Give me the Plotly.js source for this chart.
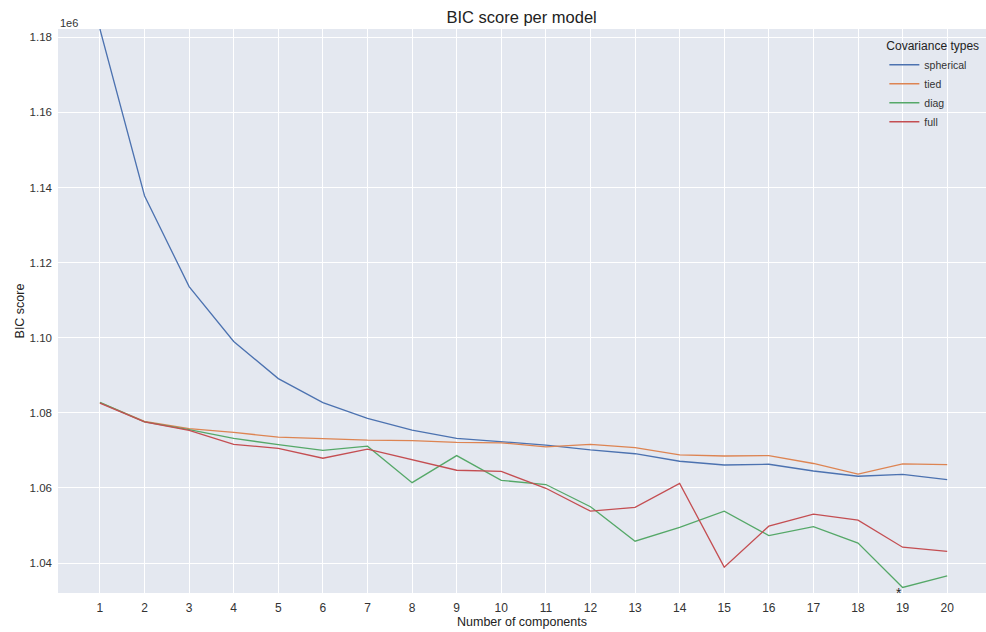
<!DOCTYPE html>
<html>
<head>
<meta charset="utf-8">
<script src="https://cdn.plot.ly/plotly-3.0.1.min.js"></script>
<style>html,body{margin:0;padding:0;background:#fff;}#chart{width:986px;height:632px;}</style>
</head>
<body>
<div id="chart"></div>
<script>
const nComponents = [1,2,3,4,5,6,7,8,9,10,11,12,13,14,15,16,17,18,19,20];
const spherical = [1.1822,1.1378,1.1136,1.0990,1.0891,1.0827,1.0785,1.0754,1.0732,1.0723,1.0714,1.0701,1.0691,1.0671,1.0661,1.0663,1.0645,1.0631,1.0636,1.0622];
const tied      = [1.0827,1.0777,1.0758,1.0748,1.0735,1.0731,1.0727,1.0726,1.0721,1.0720,1.0709,1.0716,1.0707,1.0688,1.0685,1.0686,1.0665,1.0637,1.0664,1.0662];
const diag      = [1.0828,1.0776,1.0755,1.0732,1.0715,1.0700,1.0711,1.0614,1.0686,1.0620,1.0609,1.0550,1.0458,1.0495,1.0538,1.0473,1.0497,1.0453,1.0335,1.0366];
const full      = [1.0826,1.0776,1.0753,1.0716,1.0705,1.0679,1.0703,1.0676,1.0647,1.0644,1.0599,1.0538,1.0548,1.0612,1.0389,1.0498,1.0530,1.0514,1.0442,1.0431];
const seriesNames = ['spherical','tied','diag','full'];
const seriesColors = ['#4C72B0','#DD8452','#55A868','#C44E52'];
const yTicks = [1.04,1.06,1.08,1.10,1.12,1.14,1.16,1.18];
const scale = 1e6;

const allSeries = [spherical, tied, diag, full];
const traces = allSeries.map((vals, i) => ({
  x: nComponents,
  y: vals.map(v => v * scale),
  type: 'scatter',
  mode: 'lines',
  name: seriesNames[i],
  line: {color: seriesColors[i], width: 1.3}
}));

const allVals = [].concat(spherical, tied, diag, full);
const bicMax = Math.max(...allVals) * scale;
const bicMin = Math.min(...allVals) * scale;
const yLow = bicMin * 1.01 - 0.01 * bicMax;
const minIdx = diag.indexOf(Math.min(...diag));

const layout = {
  width: 986, height: 632,
  margin: {l: 58, r: 0, t: 29, b: 39},
  paper_bgcolor: '#ffffff',
  plot_bgcolor: '#E4E8F0',
  font: {family: 'Liberation Sans, Arial, sans-serif', color: '#333333', size: 11},
  title: {text: 'BIC score per model', x: 0.529, xanchor: 'center', y: 0.972, yanchor: 'middle', font: {size: 16.5, color: '#222222'}},
  xaxis: {
    range: [0.06, 20.87],
    tickvals: nComponents,
    ticktext: nComponents.map(String),
    showgrid: true, gridcolor: '#ffffff', gridwidth: 1,
    zeroline: false, showline: false, ticks: '',
    ticklabelstandoff: 6,
    tickfont: {size: 12, color: '#333333'},
    title: {text: 'Number of components', font: {size: 12.5, color: '#222222'}, standoff: 2}
  },
  yaxis: {
    range: [yLow, bicMax],
    tickvals: yTicks.map(v => v * scale),
    ticktext: yTicks.map(v => v.toFixed(2)),
    showgrid: true, gridcolor: '#ffffff', gridwidth: 1,
    zeroline: false, showline: false, ticks: '',
    ticklabelstandoff: 5,
    tickfont: {size: 11.5, color: '#333333'},
    title: {text: 'BIC score', font: {size: 12.5, color: '#222222'}, standoff: 2}
  },
  showlegend: true,
  legend: {
    x: 0.995, xanchor: 'right', y: 0.99, yanchor: 'top',
    bgcolor: 'rgba(0,0,0,0)',
    font: {size: 10.5, color: '#333333'},
    title: {text: 'Covariance types', font: {size: 12, color: '#222222'}, side: 'top'},
    tracegroupgap: 0,
    itemwidth: 30
  },
  annotations: [
    {xref: 'paper', yref: 'paper', x: 0, y: 1, xanchor: 'left', yanchor: 'bottom', yshift: -2, text: '1e6', showarrow: false, font: {size: 11, color: '#333333'}},
    {xref: 'x', yref: 'y', x: nComponents[minIdx] - 0.08, y: yLow, xanchor: 'center', yanchor: 'middle', text: '*', showarrow: false, font: {size: 14, color: '#222222'}}
  ]
};

Plotly.newPlot('chart', traces, layout, {displayModeBar: false, staticPlot: true});
</script>
</body>
</html>
